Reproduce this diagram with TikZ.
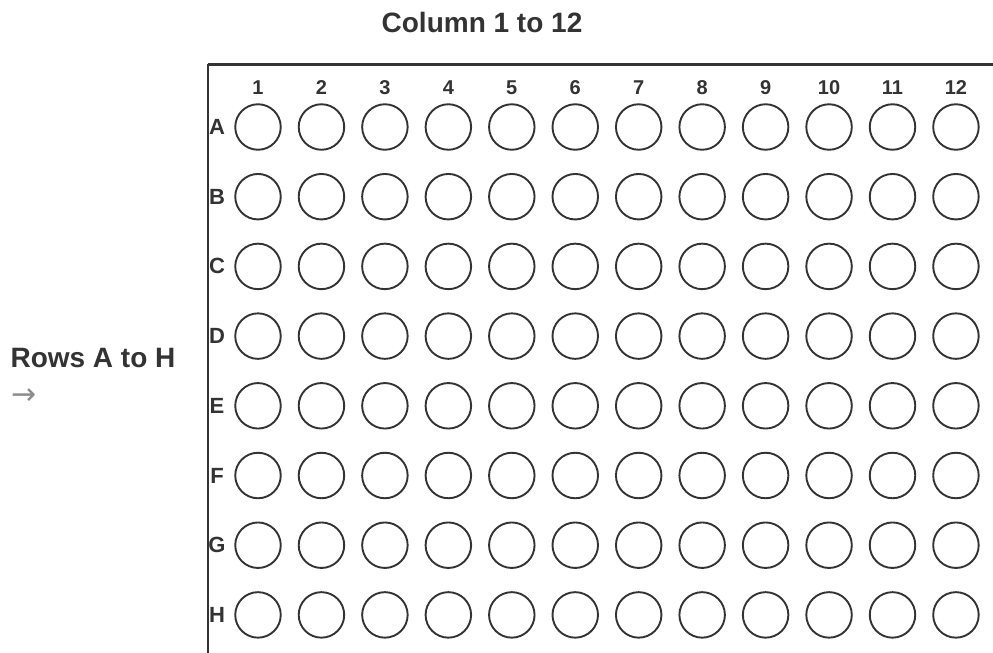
\documentclass[tikz,border=0pt]{standalone}
\usepackage{fontspec}
\setmainfont{Liberation Sans}
\newfontfamily\pfeilfont{DejaVu Sans}
\usepackage{tikz}
\definecolor{grau}{HTML}{333333}
\definecolor{dgrau}{HTML}{333333}
\definecolor{hgrau}{HTML}{8C8C8C}
\tikzset{
  napf/.style={circle,draw=dgrau,line width=1.9pt,minimum size=45.5pt,inner sep=0pt},
  rand/.style={dgrau,line width=2.2pt},
  titel/.style={grau,font=\bfseries\fontsize{28}{32}\selectfont,inner sep=0pt},
  nummer/.style={grau,font=\bfseries\fontsize{20}{22}\selectfont,inner sep=0pt},
  zeile/.style={grau,font=\bfseries\fontsize{22}{24}\selectfont,inner sep=0pt},
}

\begin{document}
\begin{tikzpicture}[x=1pt,y=-1pt]
  \useasboundingbox (0,0) rectangle (993,653);
  % Rahmen der Platte
  \coordinate (ol) at (208,64);
  \coordinate (or) at (993,64);
  \coordinate (ul) at (208,653);
  \draw[rand,line width=3pt] (ol)--(or);
  \draw[rand] (ol)--(ul);
  % Beschriftungen
  \node[titel] (spalten) at (482,22) {Column 1 to 12};
  \node[titel] (reihen) at (93,358) {Rows A to H};
  \node[hgrau,inner sep=0pt,font=\pfeilfont\fontsize{30}{32}\selectfont] (pfeil) at (24,397) {→};
  % Spaltennummern
  \foreach \c in {1,...,12}
    \node[nummer] (s\c) at ({258+63.45*(\c-1)},88) {\c};
  % Zeilen mit Napfen
  \foreach \r [count=\i] in {A,B,C,D,E,F,G,H} {
    \node[zeile] (z\r) at (217,{127+69.7*(\i-1)}) {\r};
    \foreach \c in {1,...,12}
      \node[napf] (n\r\c) at ({258+63.45*(\c-1)},{127+69.7*(\i-1)}) {};
  }
\end{tikzpicture}
\end{document}
